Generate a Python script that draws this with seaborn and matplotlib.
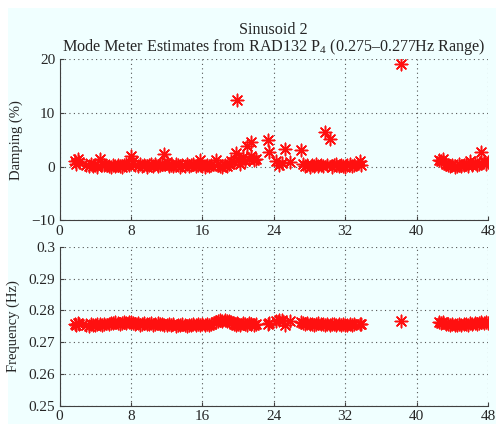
import matplotlib
matplotlib.use('Agg')
import matplotlib.pyplot as plt
import seaborn as sns
import pandas as pd
from matplotlib.patches import Rectangle

# mode meter estimates (hours, damping %, frequency Hz)
hours = [1.7, 1.85, 2.05, 2.2,
         3.0, 3.25, 3.5, 3.75, 4.0, 4.25, 4.5, 4.75, 5.0,
         5.5, 5.75, 6.0, 6.25, 6.5, 6.75, 7.0, 7.25, 7.5,
         7.75, 8.0, 8.25, 8.5, 8.75, 9.0, 9.25, 9.5, 9.75, 10.0, 10.25, 10.5, 10.75, 11.0, 11.25,
         11.5, 11.75, 12.0, 12.25, 12.5, 12.75, 13.0, 13.25, 13.5, 13.75, 14.0, 14.25, 14.5, 14.75, 15.0, 15.25, 15.5,
         15.75, 16.0, 16.25, 16.5, 16.75, 17.0,
         17.5, 17.75, 18.0, 18.25, 18.5, 18.75, 19.0, 19.25,
         19.5, 19.75, 19.9, 20.0, 20.25, 20.5, 20.75, 21.0, 21.25, 21.4, 21.5, 21.75, 22.0,
         23.3, 23.45,
         24.3, 24.6, 24.9,
         25.2, 25.8,
         27.0,
         27.25, 27.5, 27.75, 28.0, 28.25, 28.5, 28.75, 29.0, 29.25, 29.5, 29.75, 30.0,
         30.25, 30.5, 30.75, 31.0, 31.25, 31.5, 31.75, 32.0, 32.25, 32.5, 32.75, 33.0,
         33.7, 33.8,
         38.3,
         42.5, 42.75, 43.0, 43.25, 43.5, 43.75, 44.0, 44.25, 44.5, 44.75, 45.0, 45.25,
         45.5, 45.75, 46.0, 46.25, 46.5, 46.75, 47.0, 47.25, 47.5, 47.75, 48.0]

damping = [1.0, 0.5, 1.5, 0.8,
           0.3, 0.1, 0.5, 0.2, 0.4, 0.0, 1.4, 0.6, 0.3,
           0.2, 0.0, 0.3, 0.1, 0.4, 0.2, 0.0, 0.3, 0.5,
           0.4, 2.0, 1.0, 0.3, 0.1, 0.5, 0.2, 0.4, 0.0, 0.3, 0.6, 0.2, 0.5, 0.1, 0.4,
           0.6, 2.3, 0.8, 0.2, 0.4, 0.1, 0.5, 0.3, 0.0, 0.4, 0.2, 0.6, 0.1, 0.3, 0.5, 0.2, 0.4,
           1.2, 0.2, 0.0, 0.4, 0.1, 0.3,
           1.3, 0.5, 0.2, 0.0, 0.3, 0.1, 0.6, 1.0,
           0.8, 2.5, 12.4, 1.2, 0.6, 1.8, 1.0, 3.8, 1.5, 4.7, 2.0, 1.3, 1.5,
           5.0, 2.8,
           1.0, 0.4, 0.7,
           3.4, 0.8,
           3.2,
           0.6, 0.1, 0.3, 0.0, 0.4, 0.2, 0.5, 0.1, 0.3, 0.2, 6.4, 0.4,
           5.1, 0.0, 0.3, 0.5, 0.1, 0.4, 0.2, 0.0, 0.3, 0.5, 0.2, 0.4,
           1.0, 0.4,
           19.2,
           1.3, 1.0, 1.5, 0.6, 0.3, 0.1, 0.4, 0.0, 0.2, 0.5, 0.1, 0.3,
           0.6, 0.2, 1.0, 0.4, 0.7, 0.3, 0.5, 2.8, 1.0, 0.6, 0.8]

frequency = [.2757, .2755, .2760, .2756,
             .2754, .2752, .2756, .2753, .2755, .2757, .2756, .2754, .2757,
             .2758, .2761, .2759, .2762, .2760, .2758, .2761, .2763, .2760,
             .2764, .2762, .2760, .2757, .2759, .2755, .2757, .2760, .2756, .2758, .2761, .2755, .2757, .2759, .2756,
             .2757, .2755, .2753, .2756, .2754, .2757, .2752, .2755, .2753, .2756, .2754, .2752, .2755, .2753, .2756, .2754, .2757,
             .2754, .2757, .2755, .2756, .2753, .2758,
             .2763, .2767, .2769, .2766, .2770, .2768, .2765, .2762,
             .2758, .2755, .2761, .2756, .2753, .2759, .2757, .2754, .2760, .2756, .2758, .2755, .2757,
             .2758, .2759,
             .2768, .2771, .2769,
             .2754, .2766,
             .2762,
             .2760, .2757, .2759, .2756, .2758, .2755, .2757, .2759, .2756, .2758, .2755, .2757,
             .2754, .2756, .2758, .2755, .2757, .2754, .2756, .2753, .2755, .2757, .2754, .2756,
             .2757, .2756,
             .2765,
             .2762, .2760, .2763, .2758, .2756, .2754, .2757, .2753, .2755, .2757, .2754, .2756,
             .2758, .2755, .2759, .2757, .2760, .2758, .2761, .2763, .2760, .2762, .2761]

xticks = [0, 8, 16, 24, 32, 40, 48]
damp_ticks = [-10, 0, 10, 20]
freq_ticks = [0.25, 0.26, 0.27, 0.28, 0.29, 0.3]
freq_labels = ['0.25', '0.26', '0.27', '0.28', '0.29', '0.3']

df = pd.DataFrame({'hours': hours, 'damping': damping, 'frequency': frequency})

sns.set_style('ticks')
plt.rcParams['font.family'] = ['Liberation Serif', 'DejaVu Serif']
plt.rcParams['mathtext.fontset'] = 'custom'
plt.rcParams['mathtext.rm'] = 'Liberation Serif'
plt.rcParams['mathtext.default'] = 'regular'

bg = '#f0ffff'
fig = plt.figure(figsize=(4.96, 4.24), dpi=100)
fig.patch.set_facecolor('white')
fig.patches.append(Rectangle((8 / 496, 0), 1, 1 - 8 / 424, transform=fig.transFigure,
                             facecolor=bg, edgecolor='none', zorder=-1))

ax1 = fig.add_axes([0.120, 0.480, 0.864, 0.380])
ax2 = fig.add_axes([0.120, 0.043, 0.864, 0.375])

for ax, col, lab in [(ax1, 'damping', 'Damping (%)'), (ax2, 'frequency', 'Frequency (Hz)')]:
    ax.set_facecolor(bg)
    sns.scatterplot(data=df, x='hours', y=col, ax=ax, marker=(8, 2, 0), color='#ff1010',
                    edgecolor='#ff1010', s=80, linewidth=1.1, legend=False, zorder=3)
    ax.set_xlim(0, 48)
    ax.set_xticks(xticks)
    ax.set_xlabel('')
    ax.set_ylabel(lab, fontsize=10.5, labelpad=6)
    ax.grid(True, linestyle=(0, (1, 3)), color='#555555', linewidth=0.8)
    for s in ['top', 'right']:
        ax.spines[s].set_visible(False)
    for s in ['left', 'bottom']:
        ax.spines[s].set_color('#404040')
        ax.spines[s].set_linewidth(0.8)
    ax.tick_params(direction='in', length=3, width=0.8, color='#404040', labelsize=11, pad=3)

ax1.set_ylim(-10, 20)
ax1.set_yticks(damp_ticks)
ax2.set_ylim(0.25, 0.3)
ax2.set_yticks(freq_ticks)
ax2.set_yticklabels(freq_labels)

ax1.set_title('Sinusoid 2\nMode Meter Estimates from RAD132 P$_4$ (0.275\u20130.277Hz Range)',
              fontsize=11.6, linespacing=0.95, pad=6)

fig.savefig('out.png', dpi=100, facecolor=fig.get_facecolor())
